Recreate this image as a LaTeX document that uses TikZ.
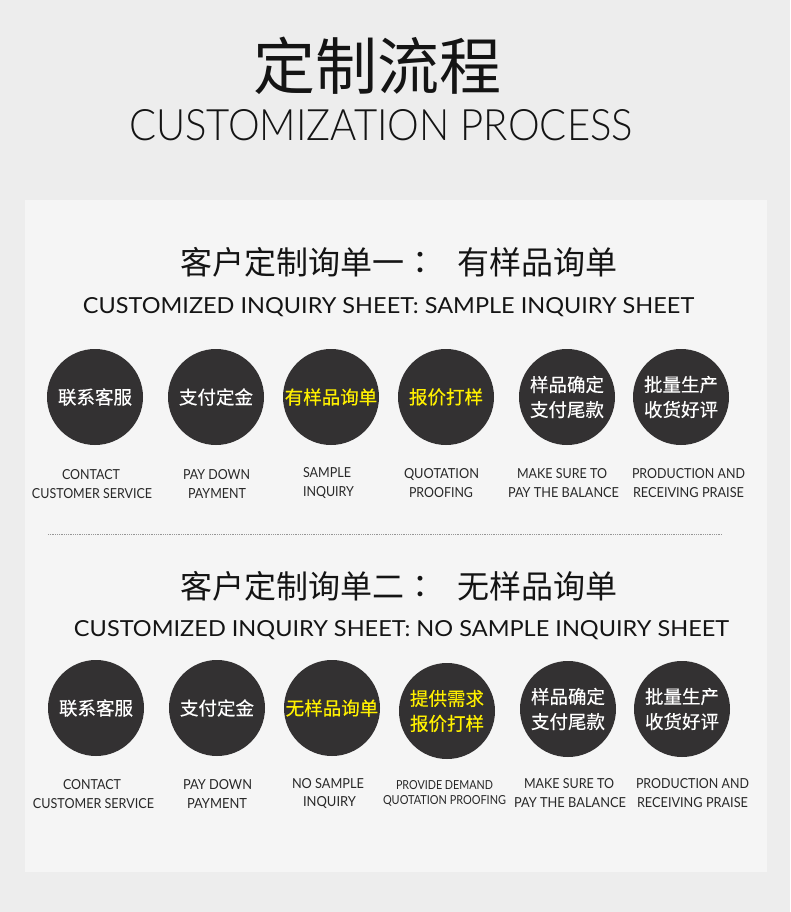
\documentclass[tikz,border=0pt]{standalone}
\usepackage{fontspec}
\usepackage{graphicx}
\newfontfamily\cjk{Noto Sans CJK SC}
\newfontfamily\cjktc{Noto Sans CJK TC}
\newfontfamily\cjkm[FakeBold=0.4]{Noto Sans CJK SC}
\newfontfamily\lat{Lato}
\newfontfamily\latl{Lato Light}
\definecolor{outerbg}{RGB}{237,237,237}
\definecolor{panelbg}{RGB}{245,245,245}
\definecolor{discc}{RGB}{51,49,50}
\definecolor{hl}{RGB}{255,240,0}
\definecolor{ink}{RGB}{20,20,20}
\definecolor{labc}{RGB}{40,40,40}
\definecolor{sepc}{RGB}{150,150,150}
\newcommand\fitcap[3]{\resizebox{#1pt}{#2pt}{#3}}
\begin{document}
\begin{tikzpicture}[x=1pt,y=-1pt,
  disc/.style={circle,fill=discc,minimum size=96pt,inner sep=0pt,align=center,
    font=\cjkm\fontsize{18.5}{25}\selectfont,text=white},
  hi/.style={text=hl},
  lbl/.style={anchor=base,inner sep=0pt,text=labc,font=\lat},
  head/.style={inner sep=0pt,text=ink,font=\cjk\fontsize{32}{32}\selectfont},
  sub/.style={anchor=base,inner sep=0pt,text=ink,font=\lat},
  sepline/.style={draw=sepc,line width=0.9pt,dash pattern=on 0.9pt off 0.9pt}
]
\fill[outerbg] (0,0) rectangle (790,912);
\useasboundingbox (0,0) rectangle (790,912);
\fill[panelbg] (25,200) rectangle (767,872);

% title
\node[inner sep=0pt,text=ink,font=\cjk\fontsize{62}{62}\selectfont] (title) at (377,66) {定制流程};
\node[anchor=base,inner sep=0pt,text=ink,font=\latl] (titleen) at (381,141) {\fitcap{504}{31}{CUSTOMIZATION PROCESS}};

% section 1
\node[head] (h1) at (398.5,262) {客户定制询单一{\cjktc ：}\hspace{21pt}有样品询单};
\node[sub] (h1en) at (388.5,313) {\fitcap{611}{16}{CUSTOMIZED INQUIRY SHEET: SAMPLE INQUIRY SHEET}};

\node[disc] (a1) at (95,397) {联系客服};
\node[disc] (a2) at (216,397) {支付定金};
\node[disc,hi] (a3) at (331,397) {有样品询单};
\node[disc,hi] (a4) at (446,397) {报价打样};
\node[disc] (a5) at (567,397) {样品确定\\支付尾款};
\node[disc] (a6) at (681,397) {批量生产\\收货好评};

\node[lbl] (a1l1) at (91,479) {\fitcap{58}{10}{CONTACT}};
\node[lbl] (a1l2) at (92,498) {\fitcap{120}{10}{CUSTOMER SERVICE}};
\node[lbl] (a2l1) at (216.5,479) {\fitcap{67}{10}{PAY DOWN}};
\node[lbl] (a2l2) at (217,498) {\fitcap{58}{10}{PAYMENT}};
\node[lbl] (a3l1) at (327,477) {\fitcap{48}{10}{SAMPLE}};
\node[lbl] (a3l2) at (328.5,496) {\fitcap{51}{10}{INQUIRY}};
\node[lbl] (a4l1) at (441.5,478) {\fitcap{75}{10}{QUOTATION}};
\node[lbl] (a4l2) at (441,497) {\fitcap{64}{10}{PROOFING}};
\node[lbl] (a5l1) at (562,478) {\fitcap{90}{10}{MAKE SURE TO}};
\node[lbl] (a5l2) at (563.5,497) {\fitcap{111}{10}{PAY THE BALANCE}};
\node[lbl] (a6l1) at (688.5,478) {\fitcap{113}{10}{PRODUCTION AND}};
\node[lbl] (a6l2) at (688.5,497) {\fitcap{111}{10}{RECEIVING PRAISE}};

% separator
\coordinate (sepL) at (48,534);
\coordinate (sepR) at (722,534);
\draw[sepline] (sepL) -- (sepR);

% section 2
\node[head] (h2) at (398.5,586) {客户定制询单二{\cjktc ：}\hspace{21pt}无样品询单};
\node[sub] (h2en) at (401.5,636) {\fitcap{655}{16}{CUSTOMIZED INQUIRY SHEET: NO SAMPLE INQUIRY SHEET}};

\node[disc] (b1) at (96,708) {联系客服};
\node[disc] (b2) at (217,708) {支付定金};
\node[disc,hi] (b3) at (332,708) {无样品询单};
\node[disc,hi] (b4) at (447,711) {提供需求\\报价打样};
\node[disc] (b5) at (568,709) {样品确定\\支付尾款};
\node[disc] (b6) at (682,709) {批量生产\\收货好评};

\node[lbl] (b1l1) at (92,789.5) {\fitcap{58}{10}{CONTACT}};
\node[lbl] (b1l2) at (93.5,808) {\fitcap{121}{10}{CUSTOMER SERVICE}};
\node[lbl] (b2l1) at (217.5,789.5) {\fitcap{69}{10}{PAY DOWN}};
\node[lbl] (b2l2) at (217,808) {\fitcap{60}{10}{PAYMENT}};
\node[lbl] (b3l1) at (328,788) {\fitcap{72}{10}{NO SAMPLE}};
\node[lbl] (b3l2) at (329.5,806) {\fitcap{53}{10}{INQUIRY}};
\node[lbl] (b4l1) at (444.5,789.5) {\fitcap{97}{9}{PROVIDE DEMAND}};
\node[lbl] (b4l2) at (444.5,804.5) {\fitcap{123}{9}{QUOTATION PROOFING}};
\node[lbl] (b5l1) at (569,788) {\fitcap{90}{10}{MAKE SURE TO}};
\node[lbl] (b5l2) at (570,807) {\fitcap{112}{10}{PAY THE BALANCE}};
\node[lbl] (b6l1) at (692.5,788) {\fitcap{113}{10}{PRODUCTION AND}};
\node[lbl] (b6l2) at (692.5,807) {\fitcap{111}{10}{RECEIVING PRAISE}};
\end{tikzpicture}
\end{document}
